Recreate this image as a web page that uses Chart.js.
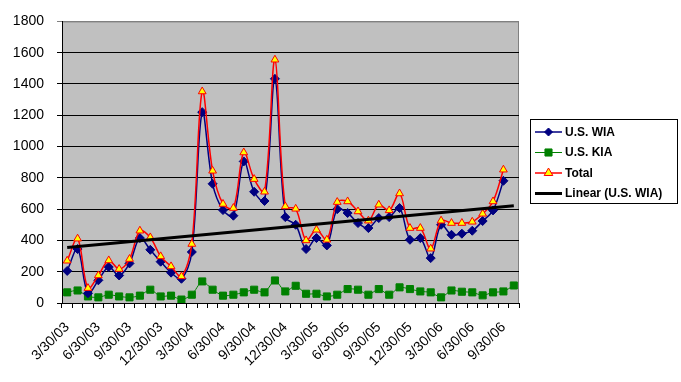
<!DOCTYPE html>
<html>
<head>
<meta charset="utf-8">
<script src="https://cdn.jsdelivr.net/npm/chart.js@4/dist/chart.umd.min.js"></script>
<style>
  body { margin: 0; background: #fff; }
  #wrap { width: 681px; height: 382px; position: relative; }
</style>
</head>
<body>
<div id="wrap"><canvas id="myChart"></canvas></div>
<script>
// monthly categories, Excel-style date labels
var months = [
    '3/30/03', '4/30/03', '5/30/03', '6/30/03', '7/30/03', '8/30/03', '9/30/03', '10/30/03', '11/30/03',
    '12/30/03', '1/30/04', '2/30/04', '3/30/04', '4/30/04', '5/30/04', '6/30/04', '7/30/04', '8/30/04',
    '9/30/04', '10/30/04', '11/30/04', '12/30/04', '1/30/05', '2/30/05', '3/30/05', '4/30/05', '5/30/05',
    '6/30/05', '7/30/05', '8/30/05', '9/30/05', '10/30/05', '11/30/05', '12/30/05', '1/30/06', '2/30/06',
    '3/30/06', '4/30/06', '5/30/06', '6/30/06', '7/30/06', '8/30/06', '9/30/06', '10/30/06'
];

var wia = [205, 345, 62, 145, 230, 176, 253, 415, 340, 264, 194, 155, 326, 1220, 762, 594, 558, 905,
    711, 652, 1433, 549, 500, 345, 415, 368, 600, 575, 511, 479, 543, 549, 607, 404, 415, 287, 500,
    436, 443, 462, 524, 592, 781];

var kia = [68, 80, 42, 36, 53, 42, 36, 47, 85, 42, 47, 22, 53, 138, 85, 47, 53, 68, 85, 68, 144, 74,
    110, 59, 59, 42, 53, 89, 85, 53, 89, 53, 100, 89, 74, 68, 36, 80, 72, 68, 49, 68, 74, 112];

var total = [270, 411, 95, 176, 272, 217, 281, 462, 419, 298, 234, 170, 377, 1352, 845, 633, 607, 962,
    792, 711, 1555, 617, 602, 400, 468, 404, 645, 649, 585, 526, 628, 592, 700, 479, 479, 347, 526,
    511, 511, 519, 570, 649, 852];

// linear trend of WIA, ends
var trendMonth = ['3/30/03', '10/30/06'];
var trendValue = [355, 622];

var yTicks = [0, 200, 400, 600, 800, 1000, 1200, 1400, 1600, 1800];

var FONT = "'Liberation Sans', Arial, sans-serif";

var plotBack = {
    id: 'plotBack',
    beforeDraw: function (chart) {
        var a = chart.chartArea, c = chart.ctx;
        c.save();
        c.fillStyle = '#c0c0c0';
        c.fillRect(a.left, a.top, a.right - a.left, a.bottom - a.top);
        c.strokeStyle = '#808080';
        c.lineWidth = 1;
        c.beginPath();
        c.moveTo(a.left, a.top + 0.5);
        c.lineTo(a.right - 0.5, a.top + 0.5);
        c.lineTo(a.right - 0.5, a.bottom);
        c.stroke();
        c.restore();
    }
};

var boxLegend = {
    id: 'boxLegend',
    afterDraw: function (chart) {
        var c = chart.ctx;
        var items = [
            { text: 'U.S. WIA', color: '#000080', width: 1.5, style: 'rectRot', r: 4, fill: '#000080' },
            { text: 'U.S. KIA', color: '#008000', width: 1, style: 'rect', r: 5, fill: '#008000' },
            { text: 'Total', color: '#ff0000', width: 1.5, style: 'triangle', r: 5, fill: '#ffff00' },
            { text: 'Linear (U.S. WIA)', color: '#000000', width: 3, style: false }
        ];
        c.save();
        c.fillStyle = '#fff';
        c.fillRect(530, 119, 148, 84);
        c.strokeStyle = '#000';
        c.lineWidth = 1;
        c.strokeRect(530.5, 119.5, 147, 84);
        items.forEach(function (it, i) {
            var y = 132 + i * 20.5;
            c.strokeStyle = it.color;
            c.lineWidth = it.width;
            c.beginPath();
            c.moveTo(535, y);
            c.lineTo(562, y);
            c.stroke();
            if (it.style) {
                c.fillStyle = it.fill;
                c.strokeStyle = it.color;
                c.lineWidth = 1;
                Chart.helpers.drawPoint(c, { pointStyle: it.style, radius: it.r, borderWidth: 1 }, 548.5, y);
            }
            c.fillStyle = '#000';
            c.font = 'bold 12px ' + FONT;
            c.textBaseline = 'middle';
            c.textAlign = 'left';
            c.fillText(it.text, 565, y + 0.5);
        });
        c.restore();
    }
};

var ctx = document.getElementById('myChart');

var data = {
    labels: months,
    datasets: [
        {
            label: 'Linear (U.S. WIA)',
            data: trendMonth.map(function (m, i) { return { x: m, y: trendValue[i] }; }),
            borderColor: '#000',
            borderWidth: 3,
            pointRadius: 0,
            tension: 0,
            order: 0
        }, {
            label: 'Total',
            data: total,
            borderColor: '#ff0000',
            backgroundColor: '#ffff00',
            borderWidth: 1.5,
            pointStyle: 'triangle',
            pointRadius: 4.5,
            pointBorderWidth: 1,
            pointBorderColor: '#ff0000',
            pointBackgroundColor: '#ffff00',
            tension: 0.35,
            order: 1
        }, {
            label: 'U.S. WIA',
            data: wia,
            borderColor: '#000080',
            backgroundColor: '#000080',
            borderWidth: 1.5,
            pointStyle: 'rectRot',
            pointRadius: 4.5,
            pointBorderWidth: 1,
            pointBorderColor: '#000080',
            pointBackgroundColor: '#000080',
            tension: 0.35,
            order: 2
        }, {
            label: 'U.S. KIA',
            data: kia,
            borderColor: '#008000',
            backgroundColor: '#008000',
            borderWidth: 1,
            pointStyle: 'rect',
            pointRadius: 5,
            pointBorderWidth: 1,
            pointBorderColor: '#008000',
            pointBackgroundColor: '#008000',
            tension: 0.25,
            order: 3
        }
    ]
};

var config = {
    type: 'line',
    data: data,
    plugins: [plotBack, boxLegend],
    options: {
        responsive: true,
        maintainAspectRatio: false,
        animation: false,
        layout: { padding: { top: 20, right: 162, left: 0, bottom: 0 } },
        plugins: {
            legend: { display: false },
            tooltip: { enabled: false }
        },
        scales: {
            x: {
                type: 'category',
                offset: true,
                afterFit: function (s) { s.height = 79; },
                grid: {
                    offset: true,
                    drawOnChartArea: false,
                    drawTicks: true,
                    tickLength: 5,
                    color: '#000'
                },
                border: { color: '#000', width: 1 },
                ticks: {
                    autoSkip: false,
                    minRotation: 45,
                    maxRotation: 45,
                    padding: 11,
                    color: '#000',
                    font: { family: FONT, size: 14 },
                    callback: function (v, i) { return i % 3 === 0 ? months[i] : ''; }
                }
            },
            y: {
                min: yTicks[0],
                max: yTicks[yTicks.length - 1],
                afterFit: function (s) { s.width = 62; },
                afterBuildTicks: function (s) {
                    s.ticks = yTicks.map(function (v) { return { value: v }; });
                },
                grid: {
                    color: function (c) { return c.tick && c.tick.value === 1800 ? '#808080' : '#000'; },
                    lineWidth: 1,
                    tickLength: 5
                },
                border: { color: '#000', width: 1 },
                ticks: {
                    padding: 13,
                    color: '#000',
                    font: { family: FONT, size: 14 },
                    callback: function (v) { return String(v); }
                }
            }
        }
    }
};

var myChart = new Chart(ctx, config);
</script>
</body>
</html>
